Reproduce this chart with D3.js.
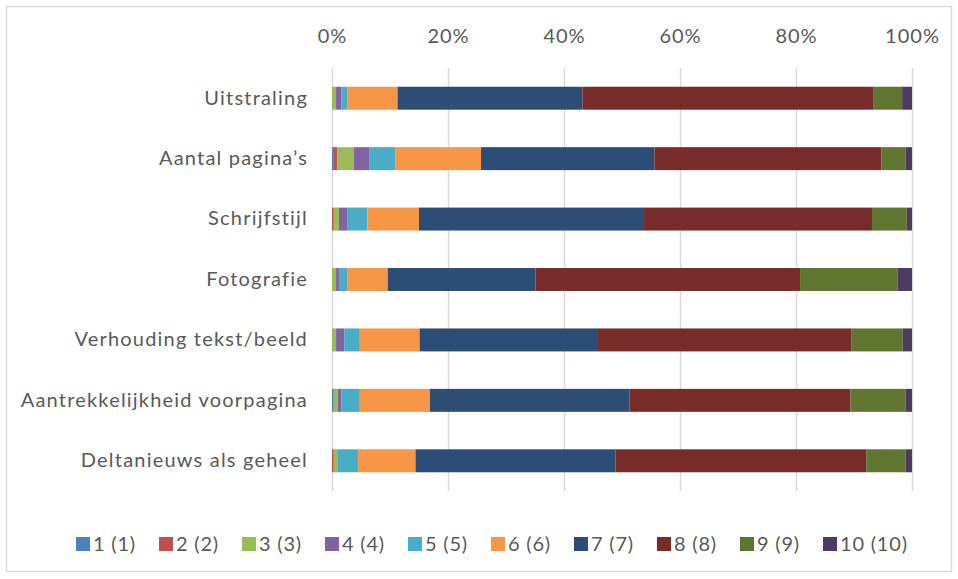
<!DOCTYPE html>
<html>
<head>
<meta charset="utf-8">
<script src="https://cdn.jsdelivr.net/npm/d3@7"></script>
<style>
body { margin:0; background:#fff; }
text { font-family: Lato, 'Open Sans', sans-serif; fill:#595959; }
</style>
</head>
<body>
<script>

// data
var categories = ['Uitstraling', 'Aantal pagina\u2019s', 'Schrijfstijl', 'Fotografie',
                  'Verhouding tekst/beeld', 'Aantrekkelijkheid voorpagina', 'Deltanieuws als geheel'];
var seriesNames = ['1 (1)','2 (2)','3 (3)','4 (4)','5 (5)','6 (6)','7 (7)','8 (8)','9 (9)','10 (10)'];
// percentage per category, one array per series
var s1  = [0.0, 0.2, 0.0, 0.0, 0.0, 0.3, 0.0];
var s2  = [0.0, 0.7, 0.3, 0.0, 0.0, 0.0, 0.3];
var s3  = [0.7, 2.9, 0.9, 0.7, 0.7, 0.7, 0.6];
var s4  = [0.9, 2.7, 1.4, 0.5, 1.4, 0.6, 0.0];
var s5  = [1.1, 4.4, 3.5, 1.5, 2.7, 3.2, 3.6];
var s6  = [8.6, 14.8, 8.9, 6.9, 10.3, 12.1, 9.9];
var s7  = [31.9, 29.9, 38.8, 25.5, 30.6, 34.4, 34.5];
var s8  = [50.2, 39.1, 39.3, 45.6, 43.9, 38.1, 43.2];
var s9  = [4.9, 4.2, 6.0, 16.8, 8.8, 9.5, 6.8];
var s10 = [1.7, 1.1, 0.9, 2.5, 1.6, 1.1, 1.1];
var seriesValues = [s1, s2, s3, s4, s5, s6, s7, s8, s9, s10];
var xTicks = [0, 0.2, 0.4, 0.6, 0.8, 1];

var colors = ['#4F81BD','#C0504D','#9BBB59','#8064A2','#4BACC6',
              '#F79646','#2C4D75','#772C2A','#5F7530','#4D3B62'];

var width = 958;
var height = 579;

var svg = d3.select('body').append('svg')
            .attr('width', width)
            .attr('height', height);

// border
svg.append('rect')
   .attr('x', 6.5)
   .attr('y', 6.5)
   .attr('width', 945)
   .attr('height', 565)
   .attr('fill', '#fff')
   .attr('stroke', '#d9d9d9')
   .attr('stroke-width', 1.5);

// table for stack
var rows = categories.map(function(c, i) {
  var r = { cat: c };
  seriesNames.forEach(function(s, j) { r[s] = seriesValues[j][i]; });
  return r;
});

var stack = d3.stack()
              .keys(seriesNames)
              .offset(d3.stackOffsetExpand);
var layers = stack(rows);

var x = d3.scaleLinear()
          .domain([0, 1])
          .range([332, 912]);

var y = d3.scaleBand()
          .domain(categories)
          .range([68, 491])
          .paddingInner(0.62)
          .paddingOuter(0.31);

// gridlines
svg.append('g')
   .selectAll('line')
   .data(xTicks)
   .join('line')
   .attr('x1', function(d){ return Math.round(x(d)) + 0.5; })
   .attr('x2', function(d){ return Math.round(x(d)) + 0.5; })
   .attr('y1', 68)
   .attr('y2', 491)
   .attr('stroke', '#d9d9d9')
   .attr('stroke-width', 1.5);

// top axis labels
var xAxis = d3.axisTop(x)
              .tickValues(xTicks)
              .tickFormat(d3.format('.0%'))
              .tickSize(0)
              .tickPadding(0);
var gx = svg.append('g')
            .attr('transform', 'translate(0,43)')
            .call(xAxis);
gx.select('.domain').remove();
gx.selectAll('text')
  .attr('dy', 0)
  .style('font-size', '20px')
  .style('letter-spacing', '1px')
  .style('fill', '#595959')
  .style('font-family', 'Lato, sans-serif');

// bars
svg.append('g')
   .selectAll('g')
   .data(layers)
   .join('g')
   .attr('fill', function(d, i){ return colors[i]; })
   .selectAll('rect')
   .data(function(d){ return d; })
   .join('rect')
   .attr('x', function(d){ return x(d[0]); })
   .attr('width', function(d){ return x(d[1]) - x(d[0]); })
   .attr('y', function(d){ return y(d.data.cat); })
   .attr('height', y.bandwidth());

// category labels
var yAxis = d3.axisLeft(y)
              .tickSize(0)
              .tickPadding(0);
var gy = svg.append('g')
            .attr('transform', 'translate(308,0)')
            .call(yAxis);
gy.select('.domain').remove();
gy.selectAll('text')
  .style('font-size', '20px')
  .style('letter-spacing', '1.2px')
  .style('fill', '#595959')
  .style('font-family', 'Lato, sans-serif');

// legend
var legend = svg.append('g')
                .selectAll('g')
                .data(seriesNames)
                .join('g')
                .attr('transform', function(d, i){ return 'translate(' + (76 + i * 83.0) + ',537)'; });
legend.append('rect')
      .attr('width', 14)
      .attr('height', 14)
      .attr('fill', function(d, i){ return colors[i]; });
legend.append('text')
      .text(function(d){ return d; })
      .attr('x', 17)
      .attr('y', 14)
      .style('letter-spacing', '0.8px')
      .style('font-size', '20px');

</script>
</body>
</html>
